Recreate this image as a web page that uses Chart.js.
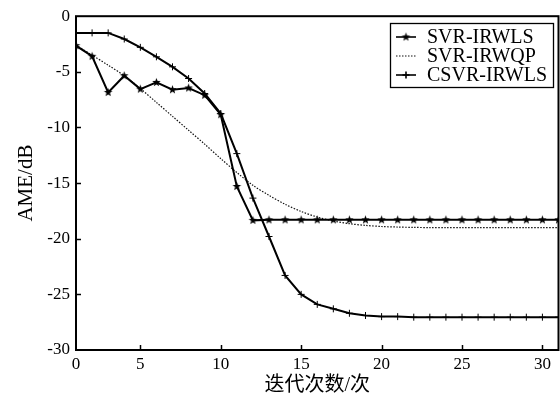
<!DOCTYPE html>
<html>
<head>
<meta charset="utf-8">
<script src="https://cdn.jsdelivr.net/npm/chart.js@4"></script>
<style>
  body { margin: 0; background: #fff; }
</style>
</head>
<body>
<canvas id="mycanvas" width="560" height="400"></canvas>
<script>
// iterations (the axis starts at 1 but the first tick reads "0")
var iters = [1,2,3,4,5,6,7,8,9,10,11,12,13,14,15,16,17,18,19,20,21,22,23,24,25,26,27,28,29,30,31];

var svrIrwls = [-2.65,-3.6,-6.85,-5.35,-6.55,-5.95,-6.6,-6.45,-7.1,-8.85,-15.3,-18.35,-18.3,-18.3,-18.3,-18.3,
  -18.3,-18.3,-18.3,-18.3,-18.3,-18.3,-18.3,-18.3,-18.3,-18.3,-18.3,-18.3,-18.3,-18.3,-18.3];
var svrIrwqp = [-2.6,-3.5,-4.4,-5.35,-6.5,-7.75,-9.0,-10.25,-11.5,-12.8,-14.05,-15.2,-16.1,-16.9,-17.55,-18.05,
  -18.4,-18.65,-18.8,-18.9,-18.95,-18.98,-19.0,-19.0,-19.0,-19.0,-19.0,-19.0,-19.0,-19.0,-19.0];
var csvrIrwls = [-1.5,-1.5,-1.5,-2.05,-2.8,-3.65,-4.55,-5.6,-6.95,-8.75,-12.35,-16.35,-19.8,-23.3,-25.0,-25.9,
  -26.3,-26.7,-26.9,-27.0,-27.0,-27.05,-27.05,-27.05,-27.05,-27.05,-27.05,-27.05,-27.05,-27.05,-27.05];

var seriesNames = ['SVR-IRWLS', 'SVR-IRWQP', 'CSVR-IRWLS'];
var xTickValues = [1, 5, 10, 15, 20, 25, 30];
var xTickLabels = ['0', '5', '10', '15', '20', '25', '30'];
var yTickValues = [0, -5, -10, -15, -20, -25, -30];

var serif = '"Liberation Serif", "Times New Roman", serif';
var plotRight = 558.5;

// small filled five point star used as marker
function makeStar(r) {
	var c = document.createElement('canvas');
	c.width = c.height = 2 * r + 2;
	var g = c.getContext('2d');
	g.fillStyle = '#000';
	g.beginPath();
	for (var i = 0; i < 10; i++) {
		var rad = (i % 2 === 0) ? r : r * 0.42;
		var a = -Math.PI / 2 + i * Math.PI / 5;
		var px = r + 1 + rad * Math.cos(a), py = r + 1 + rad * Math.sin(a);
		if (i === 0) g.moveTo(px, py); else g.lineTo(px, py);
	}
	g.closePath();
	g.fill();
	return c;
}
var star = makeStar(4.5);

function toPts(ys) {
	var out = [];
	for (var i = 0; i < iters.length; i++) out.push({x: iters[i], y: ys[i]});
	return out;
}

var chartdata = {
	datasets: [
		{
			label: seriesNames[0],
			data: toPts(svrIrwls),
			borderColor: '#000',
			borderWidth: 2,
			pointStyle: star,
			pointRadius: 4.5,
			tension: 0
		},
		{
			label: seriesNames[1],
			data: toPts(svrIrwqp),
			borderColor: '#111',
			borderWidth: 1.2,
			borderDash: [1.5, 1.5],
			pointRadius: 0,
			tension: 0.3
		},
		{
			label: seriesNames[2],
			data: toPts(csvrIrwls),
			borderColor: '#000',
			borderWidth: 2,
			pointStyle: 'cross',
			pointRadius: 3.5,
			pointBorderWidth: 1,
			pointBorderColor: '#000',
			tension: 0
		}
	]
};

// stretch the plot to the right edge (layout keeps a few px otherwise)
var stretchPlugin = {
	id: 'stretch',
	afterLayout: function(chart) {
		var xs = chart.scales.x;
		xs.right = plotRight;
		xs.width = xs.right - xs.left;
		xs.configure();
		chart.chartArea.right = plotRight;
		chart.chartArea.width = plotRight - chart.chartArea.left;
	}
};

// frame, inward ticks and the boxed legend
var framePlugin = {
	id: 'frame',
	afterDatasetsDraw: function(chart) {
		var ctx = chart.ctx, a = chart.chartArea;
		var xs = chart.scales.x, ys = chart.scales.y;
		ctx.save();
		ctx.strokeStyle = '#000';
		ctx.lineWidth = 1.5;
		xTickValues.forEach(function(v) {
			if (v === xs.min) return;
			var px = Math.round(xs.getPixelForValue(v)) + 0.5;
			ctx.beginPath(); ctx.moveTo(px, a.bottom); ctx.lineTo(px, a.bottom - 5); ctx.stroke();
		});
		yTickValues.forEach(function(v) {
			if (v === ys.min || v === ys.max) return;
			var py = Math.round(ys.getPixelForValue(v)) + 0.5;
			ctx.beginPath(); ctx.moveTo(a.left, py); ctx.lineTo(a.left + 5, py); ctx.stroke();
		});
		ctx.lineWidth = 2;
		ctx.strokeRect(a.left, a.top, a.right - a.left, a.bottom - a.top);

		// legend
		var bx = 390, by = 23, bw = 163, bh = 64;
		ctx.fillStyle = '#fff';
		ctx.fillRect(bx, by, bw, bh);
		ctx.lineWidth = 1.3;
		ctx.strokeRect(bx + 0.5, by + 0.5, bw, bh);
		var rows = [37, 56, 75];
		chart.data.datasets.forEach(function(ds, i) {
			var y = rows[i];
			ctx.strokeStyle = ds.borderColor;
			ctx.lineWidth = i === 1 ? 1.2 : 1.6;
			ctx.setLineDash(ds.borderDash || []);
			ctx.beginPath(); ctx.moveTo(396, y); ctx.lineTo(416, y); ctx.stroke();
			ctx.setLineDash([]);
			if (ds.pointRadius > 0) {
				Chart.helpers.drawPoint(ctx, {
					pointStyle: ds.pointStyle, radius: ds.pointRadius, borderWidth: 1, rotation: 0
				}, 406, y);
			}
			ctx.fillStyle = '#000';
			ctx.font = '20px ' + serif;
			ctx.textBaseline = 'middle';
			ctx.textAlign = 'left';
			ctx.fillText(ds.label, 427, y + 1);
		});
		ctx.restore();
	}
};

var ctx = document.getElementById('mycanvas');
var lineGraph = new Chart(ctx, {
	type: 'line',
	data: chartdata,
	options: {
		responsive: false,
		animation: false,
		devicePixelRatio: 1,
		layout: { padding: { top: 16, right: 1, left: 0, bottom: 0 } },
		plugins: { legend: { display: false }, tooltip: { enabled: false } },
		scales: {
			x: {
				type: 'linear',
				min: 1,
				max: 31,
				afterBuildTicks: function(s) { s.ticks = xTickValues.map(function(v) { return {value: v}; }); },
				afterFit: function(s) { s.height = 50; },
				grid: { display: false, drawTicks: false },
				border: { display: false },
				ticks: {
					autoSkip: false, maxRotation: 0, padding: 4, color: '#000',
					font: { family: serif, size: 17 },
					callback: function(v) { return xTickLabels[xTickValues.indexOf(v)]; }
				},
				title: {
					display: true, text: '迭代次数/次', color: '#000',
					font: { family: serif + ', "Noto Sans CJK SC"', size: 20 },
					padding: { top: 0, bottom: 2 }
				}
			},
			y: {
				min: -30,
				max: 0,
				afterBuildTicks: function(s) { s.ticks = yTickValues.map(function(v) { return {value: v}; }); },
				afterFit: function(s) { s.width = 76; },
				grid: { display: false, drawTicks: false },
				border: { display: false },
				ticks: {
					padding: 6, color: '#000',
					font: { family: serif, size: 17 }
				},
				title: {
					display: true, text: 'AME/dB', color: '#000',
					font: { family: serif, size: 21 },
					padding: { top: 14, bottom: 0 }
				}
			}
		}
	},
	plugins: [stretchPlugin, framePlugin]
});
</script>
</body>
</html>
